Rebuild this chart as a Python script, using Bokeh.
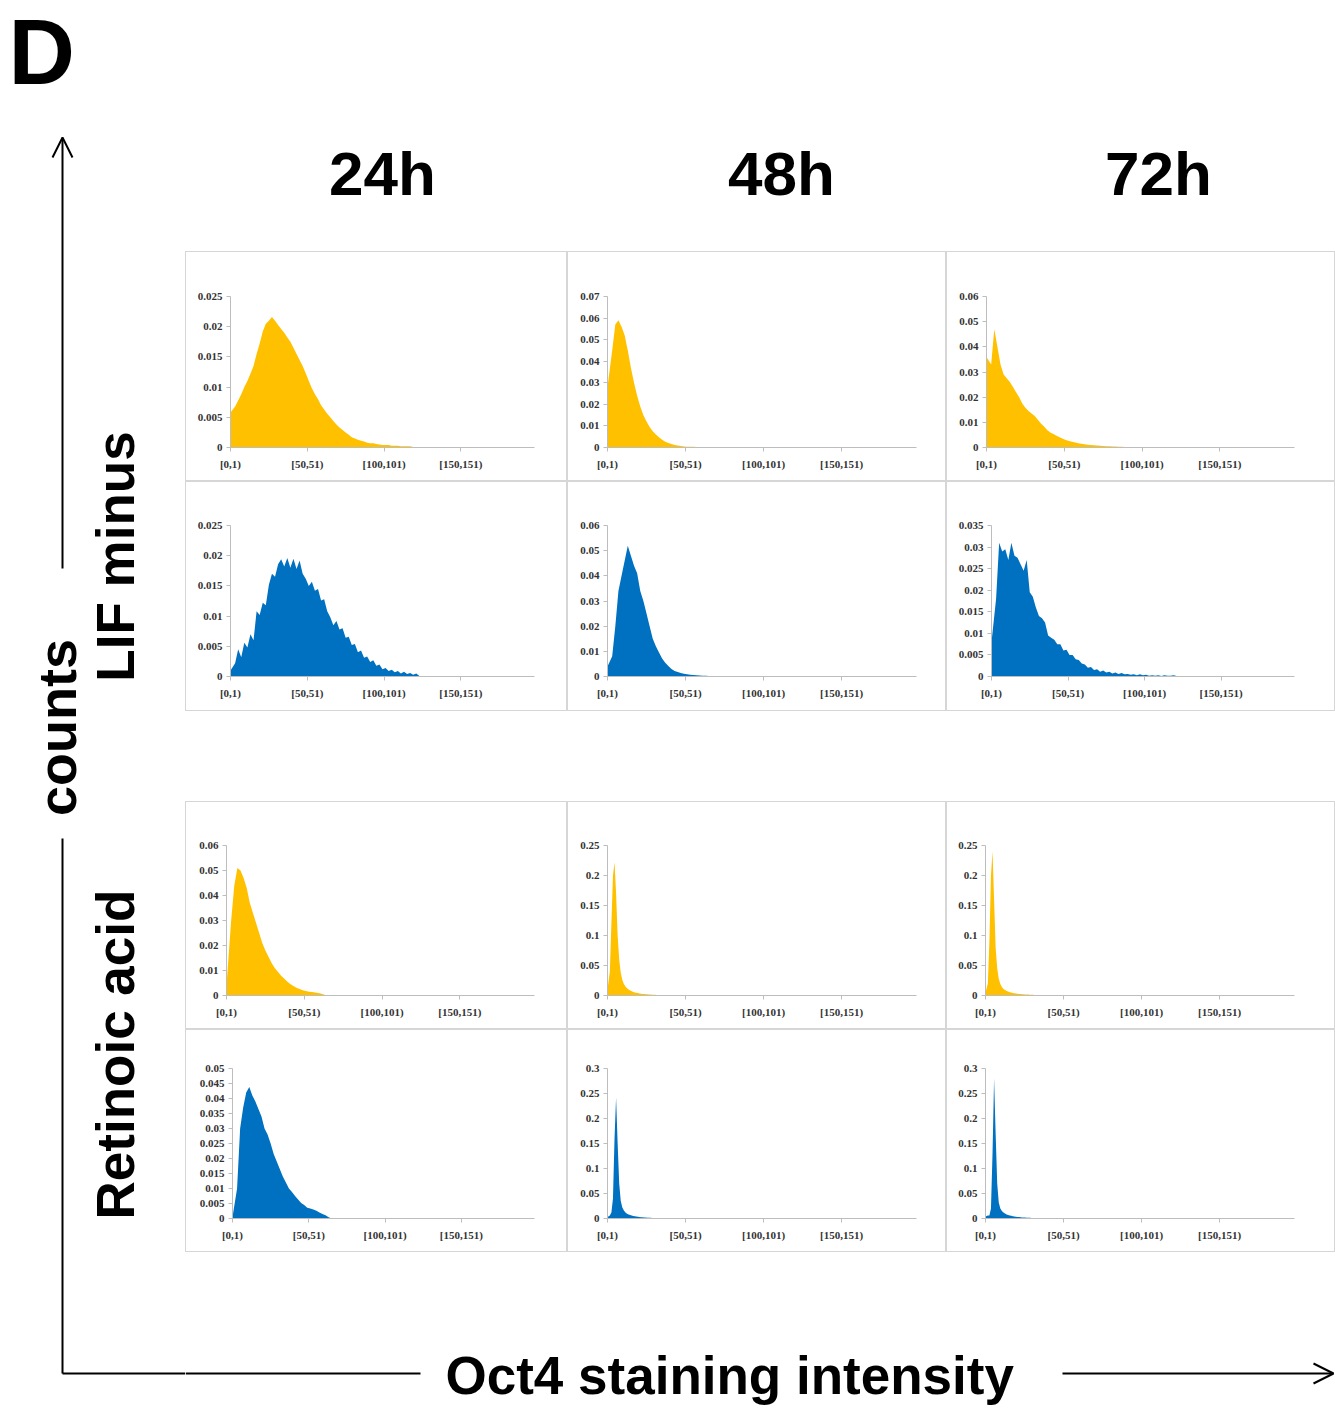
import math
from bokeh.plotting import figure
from bokeh.layouts import row, column
from bokeh.models import Range1d, FixedTicker, Arrow, OpenHead, Spacer
from bokeh.core.properties import value
from bokeh.embed import file_html
from bokeh.resources import INLINE

# ---------------- data ----------------
time_labels = ["24h", "48h", "72h"]
condition_labels = ["LIF minus", "Retinoic acid"]
x_tick_bins = [0, 50, 100, 150]
x_tick_labels = ["[0,1)", "[50,51)", "[100,101)", "[150,151)"]

y_lab_025 = ["0", "0.005", "0.01", "0.015", "0.02", "0.025"]
y_lab_035 = ["0", "0.005", "0.01", "0.015", "0.02", "0.025", "0.03", "0.035"]
y_lab_05 = ["0", "0.005", "0.01", "0.015", "0.02", "0.025", "0.03", "0.035", "0.04", "0.045", "0.05"]
y_lab_06 = ["0", "0.01", "0.02", "0.03", "0.04", "0.05", "0.06"]
y_lab_07 = ["0", "0.01", "0.02", "0.03", "0.04", "0.05", "0.06", "0.07"]
y_lab_25 = ["0", "0.05", "0.1", "0.15", "0.2", "0.25"]
y_lab_3 = ["0", "0.05", "0.1", "0.15", "0.2", "0.25", "0.3"]

# frequency per 2-bin group (LIF minus, gold = first series, blue = second series)
lif_24h_gold = [0.0058, 0.0068, 0.0078, 0.0088, 0.0100, 0.0110, 0.0122, 0.0135, 0.0155, 0.0172,
                0.0192, 0.0205, 0.0210, 0.0216, 0.0210, 0.0203, 0.0196, 0.0190, 0.0182, 0.0175,
                0.0165, 0.0155, 0.0145, 0.0135, 0.0123, 0.0110, 0.0098, 0.0088, 0.0080, 0.0070,
                0.0063, 0.0056, 0.0050, 0.0044, 0.0038, 0.0033, 0.0029, 0.0025, 0.0021, 0.0017,
                0.0015, 0.0013, 0.0011, 0.0010, 0.0008, 0.0007, 0.0007, 0.0006, 0.0005, 0.0004,
                0.0004, 0.0004, 0.0003, 0.0003, 0.0003, 0.0002, 0.0002, 0.0002, 0.0002, 0.0001,
                0.0001, 0.0001, 0.0]
lif_48h_gold = [0.028, 0.045, 0.057, 0.059, 0.056, 0.052, 0.045, 0.037, 0.030, 0.024,
                0.019, 0.015, 0.012, 0.0095, 0.0075, 0.006, 0.0047, 0.0036, 0.0027, 0.0021,
                0.0016, 0.0012, 0.0009, 0.0007, 0.0005, 0.0004, 0.0003, 0.0003, 0.0002, 0.0002,
                0.0001, 0.0001, 0.0]
lif_72h_gold = [0.036, 0.033, 0.047, 0.040, 0.033, 0.029, 0.0275, 0.026, 0.024, 0.022,
                0.020, 0.0175, 0.0158, 0.0145, 0.0135, 0.0125, 0.011, 0.0095, 0.0083, 0.007,
                0.006, 0.0054, 0.0047, 0.0041, 0.0035, 0.003, 0.0026, 0.0023, 0.002, 0.0017,
                0.0015, 0.0013, 0.0011, 0.0010, 0.0009, 0.0008, 0.0007, 0.0006, 0.0005, 0.0005,
                0.0004, 0.0004, 0.0003, 0.0003, 0.0002, 0.0002, 0.0002, 0.0001, 0.0001, 0.0001,
                0.0001, 0.0]
lif_24h_blue = [0.0010, 0.0022, 0.0045, 0.0032, 0.0056, 0.0048, 0.0070, 0.0060, 0.0108, 0.0102,
                0.0122, 0.0118, 0.0152, 0.0170, 0.0165, 0.0186, 0.0194, 0.0182, 0.0196, 0.0180,
                0.0195, 0.0178, 0.0192, 0.0170, 0.0162, 0.0150, 0.0157, 0.0142, 0.0145, 0.0126,
                0.0128, 0.0108, 0.0098, 0.0085, 0.0092, 0.0078, 0.0080, 0.0064, 0.0066, 0.0052,
                0.0054, 0.0040, 0.0043, 0.0031, 0.0033, 0.0024, 0.0027, 0.0018, 0.0020, 0.0012,
                0.0014, 0.0009, 0.0011, 0.0007, 0.0009, 0.0005, 0.0008, 0.0004, 0.0006, 0.0003,
                0.0005, 0.0001, 0.0]
lif_48h_blue = [0.004, 0.008, 0.020, 0.034, 0.040, 0.046, 0.052, 0.048, 0.044, 0.041,
                0.034, 0.030, 0.025, 0.020, 0.015, 0.012, 0.0095, 0.0072, 0.0055, 0.0042,
                0.0030, 0.0022, 0.0018, 0.0014, 0.0011, 0.0009, 0.0007, 0.0006, 0.0005, 0.0004,
                0.0003, 0.0003, 0.0002, 0.0002, 0.0001, 0.0001, 0.0001, 0.0001, 0.0001, 0.0001,
                0.0]
lif_72h_blue = [0.008, 0.018, 0.031, 0.0290, 0.0295, 0.0270, 0.031, 0.028, 0.0275, 0.026,
                0.0245, 0.0270, 0.0195, 0.0185, 0.016, 0.0140, 0.0135, 0.0125, 0.0095, 0.0090,
                0.0085, 0.0075, 0.0075, 0.0060, 0.0062, 0.0050, 0.0050, 0.0040, 0.0038, 0.0030,
                0.0028, 0.0020, 0.0022, 0.0015, 0.0017, 0.0011, 0.0014, 0.0009, 0.0011, 0.0007,
                0.0009, 0.0006, 0.0008, 0.0005, 0.0006, 0.0004, 0.0005, 0.0003, 0.0005, 0.0003,
                0.0004, 0.0002, 0.0003, 0.0002, 0.0003, 0.0001, 0.0003, 0.0002, 0.0002, 0.0003,
                0.0001, 0.0]
# Retinoic acid
ra_24h_gold = [0.004, 0.030, 0.044, 0.051, 0.050, 0.047, 0.043, 0.037, 0.033, 0.029,
               0.025, 0.021, 0.018, 0.0155, 0.013, 0.011, 0.0095, 0.008, 0.0068, 0.0056,
               0.0046, 0.0038, 0.0031, 0.0026, 0.0021, 0.0018, 0.0015, 0.0014, 0.0012, 0.0010,
               0.0007, 0.0003, 0.0]
ra_24h_blue = [0.0005, 0.010, 0.030, 0.037, 0.042, 0.0438, 0.041, 0.039, 0.0365, 0.034,
               0.030, 0.028, 0.025, 0.0215, 0.019, 0.0165, 0.0140, 0.0120, 0.0100, 0.0088,
               0.0075, 0.0063, 0.0052, 0.0045, 0.0036, 0.0033, 0.0030, 0.0026, 0.0020, 0.0015,
               0.0011, 0.0004, 0.0]
# single-bin resolution for the sharp peaks
ra_48h_gold = [0.01, 0.04, 0.12, 0.20, 0.222, 0.17, 0.10, 0.06, 0.038, 0.026,
               0.019, 0.015, 0.012, 0.010, 0.0085, 0.0072, 0.006, 0.0052, 0.0045, 0.004,
               0.0035, 0.003, 0.0027, 0.0024, 0.0021, 0.0019, 0.0017, 0.0015, 0.0013, 0.0012,
               0.0011, 0.001, 0.0009, 0.0008, 0.0007, 0.0006, 0.0005, 0.0005, 0.0004, 0.0004,
               0.0003, 0.0003, 0.0002, 0.0002, 0.0001, 0.0]
ra_72h_gold = [0.005, 0.02, 0.09, 0.20, 0.24, 0.16, 0.08, 0.045, 0.028, 0.019,
               0.014, 0.011, 0.009, 0.0075, 0.0065, 0.0056, 0.0049, 0.0043, 0.0038, 0.0034,
               0.003, 0.0027, 0.0024, 0.0022, 0.002, 0.0018, 0.0016, 0.0015, 0.0013, 0.0012,
               0.0011, 0.001, 0.0009, 0.0008, 0.0008, 0.0007, 0.0006, 0.0006, 0.0005, 0.0005,
               0.0004, 0.0004, 0.0003, 0.0003, 0.0003, 0.0002, 0.0002, 0.0002, 0.0001, 0.0001,
               0.0]
ra_48h_blue = [0.003, 0.006, 0.012, 0.04, 0.16, 0.242, 0.15, 0.07, 0.035, 0.022,
               0.016, 0.012, 0.0095, 0.008, 0.0068, 0.0058, 0.005, 0.0044, 0.0039, 0.0034,
               0.003, 0.0027, 0.0024, 0.0021, 0.0019, 0.0017, 0.0015, 0.0013, 0.0012, 0.0011,
               0.001, 0.0009, 0.0008, 0.0007, 0.0006, 0.0006, 0.0005, 0.0005, 0.0004, 0.0004,
               0.0003, 0.0003, 0.0002, 0.0002, 0.0001, 0.0001, 0.0]
ra_72h_blue = [0.004, 0.006, 0.006, 0.02, 0.13, 0.28, 0.17, 0.07, 0.032, 0.02,
               0.015, 0.012, 0.0098, 0.0082, 0.007, 0.006, 0.0053, 0.0046, 0.004, 0.0035,
               0.0031, 0.0028, 0.0025, 0.0022, 0.002, 0.0018, 0.0016, 0.0014, 0.0013, 0.0012,
               0.0011, 0.001, 0.0009, 0.0008, 0.0008, 0.0007, 0.0006, 0.0006, 0.0005, 0.0005,
               0.0004, 0.0004, 0.0003, 0.0003, 0.0002, 0.0002, 0.0001, 0.0001, 0.0]

GOLD = "#FFC000"
BLUE = "#0070C0"
FONT = "Liberation Sans"
TICK_FONT = "Liberation Serif"
N_BINS = 198

# layout of panels (pixel geometry)
col_x0 = [185, 567, 946]
col_w = [382, 379, 389]
col_right_end = [534, 916, 1294]
row_y0 = [251, 481, 801, 1029]
row_h = [230, 230, 228, 223]
row_top = [296, 525.5, 845, 1068]
row_base = [446.5, 675.7, 994.5, 1217.7]

panels = [
    # (row, col, values, bin width, y labels, color, axis x)
    (0, 0, lif_24h_gold, 2, y_lab_025, GOLD, 230),
    (0, 1, lif_48h_gold, 2, y_lab_07, GOLD, 607),
    (0, 2, lif_72h_gold, 2, y_lab_06, GOLD, 986),
    (1, 0, lif_24h_blue, 2, y_lab_025, BLUE, 230),
    (1, 1, lif_48h_blue, 2, y_lab_06, BLUE, 607),
    (1, 2, lif_72h_blue, 2, y_lab_035, BLUE, 991),
    (2, 0, ra_24h_gold, 2, y_lab_06, GOLD, 226),
    (2, 1, ra_48h_gold, 1, y_lab_25, GOLD, 607),
    (2, 2, ra_72h_gold, 1, y_lab_25, GOLD, 985),
    (3, 0, ra_24h_blue, 2, y_lab_05, BLUE, 232),
    (3, 1, ra_48h_blue, 1, y_lab_3, BLUE, 607),
    (3, 2, ra_72h_blue, 1, y_lab_3, BLUE, 985),
]


def hist_panel(r, c, vals, binw, ylabels, color, axis_x):
    W, H = col_w[c], row_h[r]
    left = round(axis_x - col_x0[c])
    right = col_x0[c] + W - col_right_end[c]
    top = round(row_top[r] - row_y0[r])
    bottom = round(row_y0[r] + H - row_base[r])
    yt = [float(s) for s in ylabels]
    p = figure(width=W, height=H, output_backend="svg", toolbar_location=None,
               x_range=Range1d(0, N_BINS), y_range=Range1d(0, yt[-1]),
               min_border_left=left, min_border_right=right,
               min_border_top=top, min_border_bottom=bottom,
               border_fill_color=None, background_fill_color=None)
    p.styles = {"box-shadow": "inset 0 0 0 1px #d6d6d6"}
    xs = [binw * i + binw / 2 for i in range(len(vals))]
    xs[0] = 0
    p.varea(x=xs, y1=0, y2=vals, fill_color=color)
    p.grid.visible = False
    p.outline_line_color = None
    p.xaxis.ticker = FixedTicker(ticks=[float(t) for t in x_tick_bins])
    p.xaxis.major_label_overrides = {float(t): s for t, s in zip(x_tick_bins, x_tick_labels)}
    p.yaxis.ticker = FixedTicker(ticks=yt)
    p.yaxis.major_label_overrides = {v: s for v, s in zip(yt, ylabels)}
    for ax in (p.xaxis[0], p.yaxis[0]):
        ax.axis_line_color = "#bdbdbd"
        ax.axis_line_width = 1
        ax.major_tick_line_color = "#bdbdbd"
        ax.major_tick_in = 0
        ax.major_tick_out = 4
        ax.minor_tick_line_color = None
        ax.major_label_text_font = TICK_FONT
        ax.major_label_text_font_style = "bold"
        ax.major_label_text_font_size = "11px"
        ax.major_label_text_color = "#333333"
    p.xaxis.major_label_standoff = 6
    p.yaxis.major_label_standoff = 4
    return p


figs = [hist_panel(*spec) for spec in panels]


def blank(w, h, xr, yr):
    f = figure(width=w, height=h, output_backend="svg", toolbar_location=None,
               x_range=Range1d(*xr), y_range=Range1d(*yr),
               x_axis_location=None, y_axis_location=None,
               min_border=0, min_border_left=0, min_border_right=0,
               min_border_top=0, min_border_bottom=0)
    f.grid.visible = False
    f.outline_line_color = None
    return f


# left strip: panel letter, vertical axis arrow, row labels
L = blank(185, 1408, (0, 185), (1408, 0))
L.text(x=[8], y=[51], text=["D"], text_font=value(FONT), text_font_style="bold",
       text_font_size="92px", text_baseline="alphabetic", text_align="left", text_color="black")
L.add_layout(Arrow(end=OpenHead(size=20, line_width=2, line_color="black"),
                   x_start=62, y_start=568, x_end=62, y_end=137,
                   line_width=2, line_color="black"))
L.segment(x0=[62, 62], y0=[838, 1373], x1=[62, 185], y1=[1373, 1373],
          line_width=2, line_color="black")
L.text(x=[56], y=[727], text=["counts"], angle=math.pi / 2, text_font=value(FONT),
       text_font_style="bold", text_font_size="54px", text_align="center",
       text_baseline="alphabetic", text_color="black")
L.text(x=[115, 115], y=[556, 1054], text=condition_labels, angle=math.pi / 2,
       text_font=value(FONT), text_font_style="bold", text_font_size="53px",
       text_align="center", text_baseline="alphabetic", text_color="black")

# top strip: time-point headers
T = blank(1150, 251, (185, 1335), (251, 0))
T.text(x=[382, 781, 1158], y=[173, 173, 173], text=time_labels, text_font=value(FONT),
       text_font_style="bold", text_font_size="62px", text_align="center",
       text_baseline="alphabetic", text_color="black")

# bottom strip: horizontal axis arrow and title
B = blank(1150, 156, (185, 1335), (1408, 1252))
B.segment(x0=[185], y0=[1373], x1=[420], y1=[1373], line_width=2, line_color="black")
B.add_layout(Arrow(end=OpenHead(size=20, line_width=2, line_color="black"),
                   x_start=1062, y_start=1373, x_end=1333, y_end=1373,
                   line_width=2, line_color="black"))
B.text(x=[445], y=[1375], text=["Oct4 staining intensity"], text_font=value(FONT),
       text_font_style="bold", text_font_size="53px", text_align="left",
       text_baseline="alphabetic", text_color="black")

right_col = column(
    T,
    row(figs[0], figs[1], figs[2]),
    row(figs[3], figs[4], figs[5]),
    Spacer(width=1150, height=90),
    row(figs[6], figs[7], figs[8]),
    row(figs[9], figs[10], figs[11]),
    B,
)
layout = row(L, right_col)

open("out.html", "w").write(file_html(layout, INLINE))
